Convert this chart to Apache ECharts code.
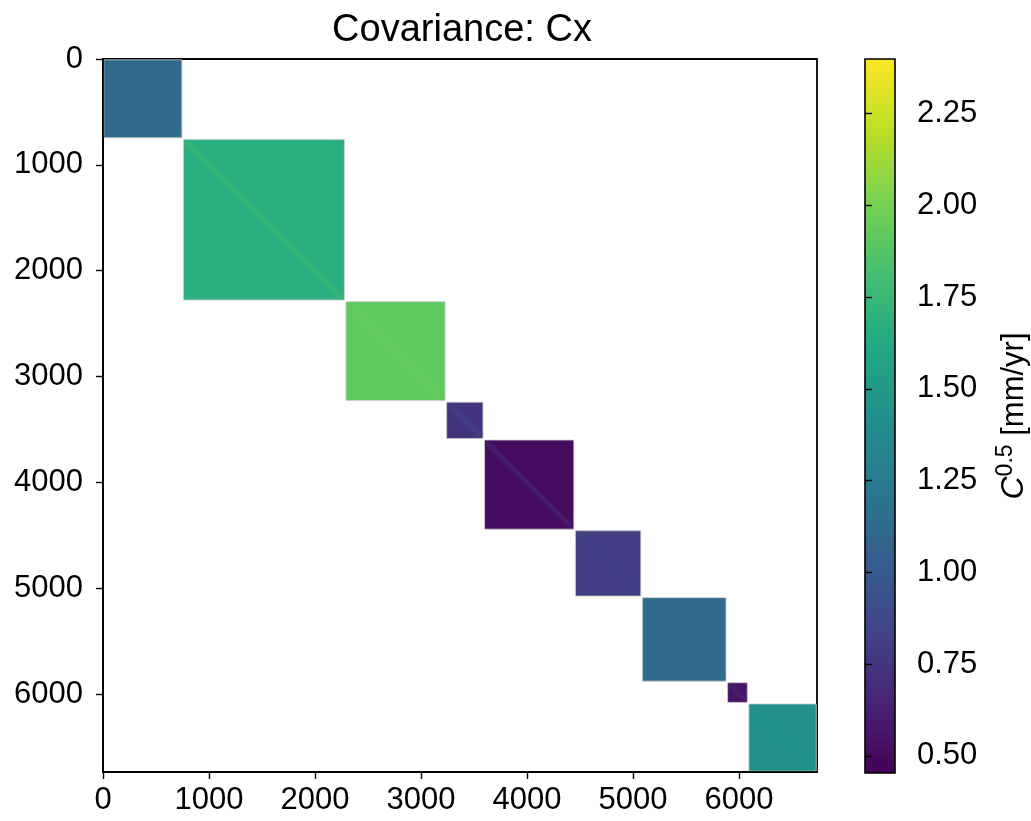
<!DOCTYPE html>
<html>
<head>
<meta charset="utf-8">
<script src="https://cdn.jsdelivr.net/npm/echarts@6/dist/echarts.min.js"></script>
<style>
  html, body { margin: 0; padding: 0; background: #ffffff; }
  #chart { width: 1031px; height: 821px; }
</style>
</head>
<body>
<div id="chart"></div>
<script>
// ---------------- data ----------------
const matrixSize = 6737;
const blockEdges = [0, 752, 2285, 3235, 3593, 4450, 5082, 5886, 6087, 6737];
const blockValues = [1.13, 1.68, 1.91, 0.745, 0.51, 0.80, 1.13, 0.56, 1.426];
const diagValues  = [1.17, 1.80, 1.96, 0.86, 0.70, 0.88, 1.17, 0.66, 1.47];
const axisTickValues = [0, 1000, 2000, 3000, 4000, 5000, 6000];
const cbarMin = 0.453;
const cbarMax = 2.399;
const cbarTickValues = [0.5, 0.75, 1.0, 1.25, 1.5, 1.75, 2.0, 2.25];
const titleText = 'Covariance: Cx';

// ---------------- colormap (viridis) ----------------
const viridisStops = ['#440154', '#482475', '#414487', '#355f8d', '#2a788e',
  '#21918c', '#22a884', '#44bf70', '#7ad151', '#bddf26', '#fde725'];
function hexToRgb(h) {
  return [parseInt(h.slice(1, 3), 16), parseInt(h.slice(3, 5), 16), parseInt(h.slice(5, 7), 16)];
}
const viridisRgb = viridisStops.map(hexToRgb);
function viridis(t) {
  t = Math.max(0, Math.min(1, t));
  const n = viridisRgb.length - 1;
  const f = t * n;
  const i = Math.min(n - 1, Math.floor(f));
  const u = f - i;
  const a = viridisRgb[i], b = viridisRgb[i + 1];
  const c = a.map((v, k) => Math.round(v + (b[k] - v) * u));
  return 'rgb(' + c.join(',') + ')';
}
function norm(v) { return (v - cbarMin) / (cbarMax - cbarMin); }

const blockData = blockValues.map((v, i) => [blockEdges[i], blockEdges[i + 1], v, diagValues[i]]);

const FONT = "'Liberation Sans', Arial, Helvetica, sans-serif";
const chart = echarts.init(document.getElementById('chart'), null, { renderer: 'canvas' });

const lineStyle = { color: '#000', width: 1.6 };

const option = {
  animation: false,
  backgroundColor: '#ffffff',
  title: {
    text: titleText,
    left: 457,
    textAlign: 'center',
    top: 7,
    textStyle: { fontFamily: FONT, fontSize: 38, fontWeight: 'normal', color: '#000' }
  },
  grid: [
    { left: 103, top: 59, width: 714, height: 713, containLabel: false,
      show: true, borderColor: '#000', borderWidth: 1.8, backgroundColor: 'transparent' },
    { left: 865, top: 59, width: 36, height: 714, containLabel: false }
  ],
  xAxis: [
    {
      gridIndex: 0, type: 'value', min: 0, max: matrixSize, position: 'bottom', z: 5,
      axisLine: { show: true, onZero: false, lineStyle: lineStyle },
      axisTick: { show: true, inside: false, length: 7, customValues: axisTickValues, lineStyle: { color: '#000', width: 1.4 } },
      axisLabel: { show: true, customValues: axisTickValues, fontFamily: FONT, fontSize: 31, color: '#000', margin: 13,
        formatter: v => String(Math.round(v)) },
      splitLine: { show: false }
    },
    {
      gridIndex: 1, type: 'value', min: 0, max: 1, show: false
    }
  ],
  yAxis: [
    {
      gridIndex: 0, type: 'value', min: 0, max: matrixSize, inverse: true, position: 'left', z: 5,
      axisLine: { show: true, onZero: false, lineStyle: lineStyle },
      axisTick: { show: true, inside: false, length: 7, customValues: axisTickValues, lineStyle: { color: '#000', width: 1.4 } },
      axisLabel: { show: true, customValues: axisTickValues, fontFamily: FONT, fontSize: 31, color: '#000', margin: 20,
        formatter: v => String(Math.round(v)) },
      splitLine: { show: false }
    },
    {
      gridIndex: 1, type: 'value', min: cbarMin, max: cbarMax, position: 'right', z: 5,
      axisLine: { show: false },
      axisTick: { show: true, inside: false, length: 7, customValues: cbarTickValues, lineStyle: { color: '#000', width: 1.4 } },
      axisLabel: {
        show: true, customValues: cbarTickValues, fontFamily: FONT, fontSize: 31, color: '#000', margin: 22,
        formatter: v => Number(v).toFixed(2)
      },
      splitLine: { show: false },
      name: '{c|C}{s|0.5}{n| [mm/yr]}',
      nameLocation: 'middle',
      nameRotate: 90,
      nameGap: 99,
      nameTextStyle: {
        fontFamily: FONT, fontSize: 31, color: '#000',
        rich: {
          c: { fontFamily: FONT, fontSize: 32, fontStyle: 'italic', color: '#000', lineHeight: 36, verticalAlign: 'bottom' },
          s: { fontFamily: FONT, fontSize: 23, color: '#000', lineHeight: 36, verticalAlign: 'top' },
          n: { fontFamily: FONT, fontSize: 31, color: '#000', lineHeight: 36, verticalAlign: 'bottom' }
        }
      }
    }
  ],
  series: [
    {
      type: 'custom',
      xAxisIndex: 0, yAxisIndex: 0,
      encode: { x: [0, 1], y: [0, 1] },
      clip: true,
      data: blockData,
      renderItem: function (params, api) {
        const s = api.value(0), e = api.value(1);
        const p0 = api.coord([s, s]);
        const p1 = api.coord([e, e]);
        const x = Math.min(p0[0], p1[0]), y = Math.min(p0[1], p1[1]);
        const w = Math.abs(p1[0] - p0[0]), h = Math.abs(p1[1] - p0[1]);
        const ins = 0.8;
        const diagColor = viridis(norm(api.value(3)));
        return {
          type: 'group',
          children: [
            {
              type: 'rect',
              shape: { x: x + ins, y: y + ins, width: w - 2 * ins, height: h - 2 * ins },
              style: { fill: viridis(norm(api.value(2))), stroke: '#cdcdcd', lineWidth: 0.8 }
            },
            {
              type: 'line',
              shape: { x1: x + 3, y1: y + 3, x2: x + w - 3, y2: y + h - 3 },
              style: { stroke: diagColor, lineWidth: 7, opacity: 0.25 }
            },
            {
              type: 'line',
              shape: { x1: x + 3, y1: y + 3, x2: x + w - 3, y2: y + h - 3 },
              style: { stroke: diagColor, lineWidth: 2.5, opacity: 0.45 }
            }
          ]
        };
      }
    },
    {
      type: 'custom',
      xAxisIndex: 1, yAxisIndex: 1,
      encode: { y: [0, 1] },
      data: [[cbarMin, cbarMax]],
      renderItem: function (params, api) {
        const top = api.coord([0, api.value(1)]);
        const bot = api.coord([1, api.value(0)]);
        const stops = viridisStops.map((c, i) => ({ offset: i / (viridisStops.length - 1), color: c }));
        return {
          type: 'rect',
          shape: { x: top[0], y: top[1], width: bot[0] - top[0], height: bot[1] - top[1] },
          style: {
            fill: new echarts.graphic.LinearGradient(0, 1, 0, 0, stops),
            stroke: '#000', lineWidth: 1.6
          }
        };
      }
    }
  ]
};
chart.setOption(option);
</script>
</body>
</html>
